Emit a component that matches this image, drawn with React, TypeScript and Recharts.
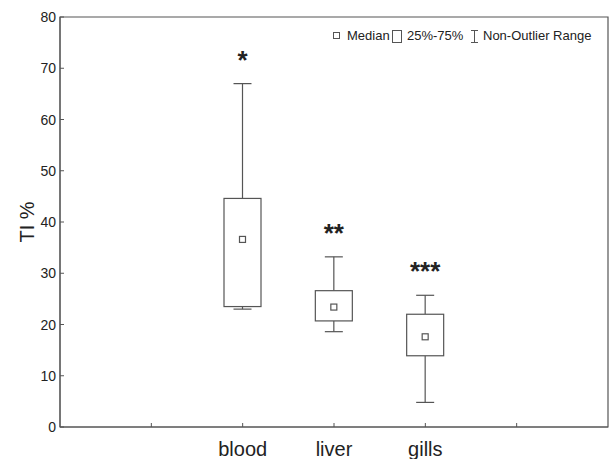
import { ComposedChart, Bar, XAxis, YAxis, ReferenceArea } from "recharts";

// box plot stats
const categories = ["blood", "liver", "gills"];
const positions = [2, 3, 4];
const whiskerLow = [23.0, 18.6, 4.8];
const lowerQuartile = [23.5, 20.7, 13.9];
const medians = [36.6, 23.4, 17.6];
const upperQuartile = [44.6, 26.6, 22.0];
const whiskerHigh = [67.0, 33.2, 25.7];
const marks = ["*", "**", "***"];

const yTicks = [0, 10, 20, 30, 40, 50, 60, 70, 80];
const xTicks = [1, 2, 3, 4, 5];

const FONT = '"Liberation Sans", Arial, sans-serif';
const LINE = "#555";
const TEXT = "#222";

const data = categories.map((name, i) => ({
  name,
  x: positions[i],
  min: whiskerLow[i],
  q1: lowerQuartile[i],
  median: medians[i],
  q3: upperQuartile[i],
  max: whiskerHigh[i],
  mark: marks[i],
}));

function BoxShape(props: any) {
  const { x, y, width, height, payload } = props;
  const { min, q1, median, q3, max, mark } = payload;
  const perUnit = height / (q3 - q1);
  const py = (v: number) => y + (q3 - v) * perUnit;
  const cx = x + width / 2;
  const cap = 9;
  return (
    <g stroke={LINE} strokeWidth={1.2} fill="none">
      <line x1={cx} x2={cx} y1={py(max)} y2={py(q3)} />
      <line x1={cx} x2={cx} y1={py(q1)} y2={py(min)} />
      <line x1={cx - cap} x2={cx + cap} y1={py(max)} y2={py(max)} />
      <line x1={cx - cap} x2={cx + cap} y1={py(min)} y2={py(min)} />
      <rect x={x} y={y} width={width} height={height} fill="#fff" />
      <rect x={cx - 3} y={py(median) - 3} width={6} height={6} fill="#fff" />
      <text
        x={cx}
        y={py(max) - 15}
        textAnchor="middle"
        fontSize={26}
        fontWeight="bold"
        fontFamily={FONT}
        fill={TEXT}
        stroke="none"
      >
        {mark}
      </text>
    </g>
  );
}

function XTick({ x, y, payload }: any) {
  const idx = positions.indexOf(payload.value);
  return (
    <g>
      <line x1={x} x2={x} y1={y} y2={y - 4} stroke={LINE} />
      {idx >= 0 && (
        <text x={x} y={y + 29} textAnchor="middle" fontSize={20} fontFamily={FONT} fill={TEXT}>
          {categories[idx]}
        </text>
      )}
    </g>
  );
}

function YTick({ x, y, payload }: any) {
  return (
    <g>
      <line x1={x} x2={x + 4} y1={y} y2={y} stroke={LINE} />
      <text x={x - 4} y={y + 5} textAnchor="end" fontSize={14} fontFamily={FONT} fill={TEXT}>
        {payload.value}
      </text>
    </g>
  );
}

function YLabel({ viewBox }: any) {
  const lx = 34;
  const ly = viewBox.y + viewBox.height / 2;
  return (
    <text
      x={lx}
      y={ly}
      transform={`rotate(-90, ${lx}, ${ly})`}
      textAnchor="middle"
      fontSize={20}
      fontFamily={FONT}
      fill={TEXT}
    >
      TI %
    </text>
  );
}

function BoxLegend() {
  return (
    <svg width={280} height={24} style={{ position: "absolute", left: 330, top: 24 }}>
      <g fontFamily={FONT} fontSize={13} fill={TEXT}>
        <rect x={3.5} y={8.5} width={6} height={6} fill="none" stroke={LINE} />
        <text x={17} y={16}>Median</text>
        <rect x={62.5} y={6.5} width={9} height={12} fill="none" stroke={LINE} />
        <text x={77} y={16}>25%-75%</text>
        <g stroke={LINE}>
          <line x1={141} x2={148} y1={6.5} y2={6.5} />
          <line x1={144.5} x2={144.5} y1={6.5} y2={18.5} />
          <line x1={141} x2={148} y1={18.5} y2={18.5} />
        </g>
        <text x={153} y={16}>Non-Outlier Range</text>
      </g>
    </svg>
  );
}

export default function App() {
  return (
    <div style={{ position: "absolute", left: 0, top: 0, width: 609, height: 459, background: "#fff" }}>
      <ComposedChart
        width={609}
        height={459}
        data={data}
        margin={{ top: 17, right: 1, bottom: 0, left: 10 }}
      >
        <XAxis
          dataKey="x"
          type="number"
          domain={[0, 6]}
          ticks={xTicks}
          height={32}
          tickSize={0}
          tickMargin={0}
          tickLine={false}
          axisLine={{ stroke: LINE }}
          tick={<XTick />}
          interval={0}
        />
        <YAxis
          type="number"
          domain={[0, 80]}
          ticks={yTicks}
          width={50}
          tickSize={0}
          tickMargin={0}
          tickLine={false}
          axisLine={{ stroke: LINE }}
          tick={<YTick />}
          interval={0}
          label={<YLabel />}
        />
        <ReferenceArea x1={0} x2={6} y1={0} y2={80} fill="none" stroke={LINE} strokeWidth={1.2} />
        <Bar
          dataKey={(d: any) => [d.q1, d.q3]}
          barSize={37}
          shape={<BoxShape />}
          isAnimationActive={false}
        />
      </ComposedChart>
      <BoxLegend />
    </div>
  );
}
